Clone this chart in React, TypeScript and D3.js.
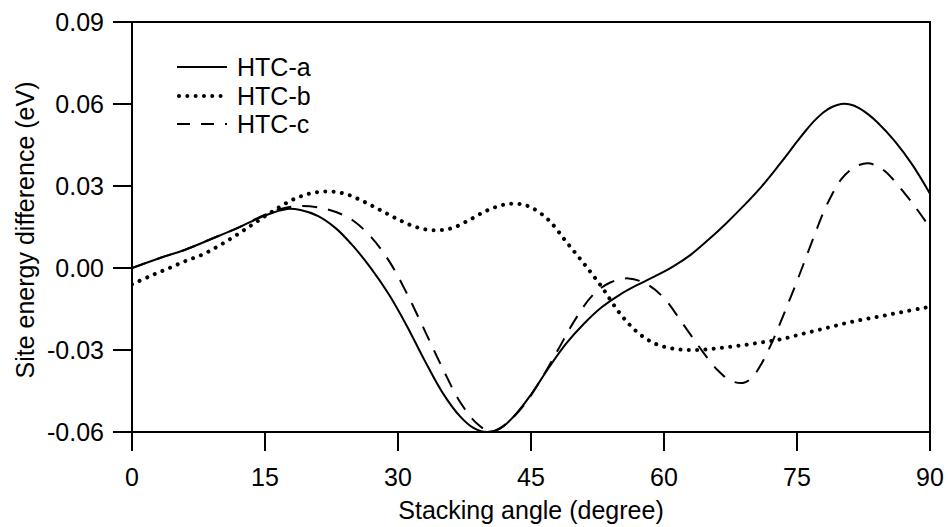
import React from "react";
import * as d3 from "d3";

const xTicks = [0, 15, 30, 45, 60, 75, 90];
const yTicks = [-0.06, -0.03, 0.0, 0.03, 0.06, 0.09];
const yTickLabels = ["-0.06", "-0.03", "0.00", "0.03", "0.06", "0.09"];

const seriesNames = ["HTC-a", "HTC-b", "HTC-c"];

const htcA: [number, number][] = [
  [0, 0.0], [3, 0.0035], [6, 0.0067], [9, 0.0107], [12, 0.0148], [15, 0.0192],
  [17.5, 0.0216], [19, 0.0212], [21, 0.019], [23, 0.0145], [25, 0.0078],
  [27, -0.0003], [29, -0.0098], [31, -0.0212], [33, -0.0338], [35, -0.0455],
  [37, -0.0543], [38.5, -0.0585], [40, -0.06], [41.5, -0.0588], [43, -0.0545],
  [45, -0.0463], [47, -0.0365], [49, -0.0275], [51, -0.0203], [53, -0.0143],
  [55, -0.0098], [57, -0.0062], [59, -0.003], [61, 0.0005], [63, 0.0048],
  [65, 0.0103], [67, 0.0163], [69, 0.0228], [71, 0.0298], [73, 0.0378],
  [75, 0.0462], [76, 0.0503], [77, 0.054], [78, 0.057], [79, 0.059],
  [80, 0.06], [81, 0.0598], [82, 0.0585], [83, 0.0563], [84, 0.0535],
  [86, 0.0465], [88, 0.0378], [90, 0.0272],
];

const htcB: [number, number][] = [
  [0, -0.006], [2, -0.003], [4, -0.0003], [6, 0.0025], [8, 0.005], [10, 0.0085],
  [12, 0.0125], [14, 0.0168], [16, 0.021], [18, 0.0248], [20, 0.0272],
  [22, 0.028], [24, 0.0272], [26, 0.0245], [28, 0.0212], [30, 0.0178],
  [32, 0.015], [34, 0.0138], [36, 0.0145], [38, 0.0175], [40, 0.021],
  [42, 0.0232], [43.5, 0.0235], [45, 0.0222], [47, 0.0175], [49, 0.0095],
  [51, 0.0015], [53, -0.007], [55, -0.0165], [57, -0.0235], [59, -0.0277],
  [61, -0.0295], [63, -0.03], [65, -0.0297], [67, -0.029], [69, -0.0282],
  [71, -0.0272], [73, -0.0262], [75, -0.0246], [77, -0.023], [79, -0.0214],
  [81, -0.0198], [83, -0.0185], [85, -0.0173], [87, -0.016], [89, -0.0148],
  [90, -0.0142],
];

const htcC: [number, number][] = [
  [0, 0.0], [3, 0.0035], [6, 0.0067], [9, 0.0107], [12, 0.0148], [15, 0.0195],
  [17, 0.0218], [19, 0.0227], [21, 0.0222], [23, 0.0205], [25, 0.0172],
  [27, 0.0112], [29, 0.0025], [31, -0.0093], [33, -0.0228], [35, -0.0365],
  [37, -0.049], [39, -0.0572], [40.5, -0.0599], [42, -0.0575], [44, -0.051],
  [46, -0.0415], [48, -0.0302], [50, -0.0188], [52, -0.0098], [54, -0.0052],
  [56, -0.0038], [58, -0.0058], [60, -0.011], [62, -0.0198], [64, -0.029],
  [66, -0.0372], [67.5, -0.0412], [69, -0.042], [70, -0.0398], [71, -0.035],
  [72, -0.0285], [73, -0.021], [74, -0.013], [75, -0.0048], [76, 0.0037],
  [77, 0.0123], [78, 0.0205], [79, 0.0272], [80, 0.0325], [81, 0.0358],
  [82, 0.0377], [83, 0.0383], [84, 0.0374], [85, 0.0352], [86, 0.0318],
  [88, 0.0238], [90, 0.0148],
];

const W = 948;
const H = 527;
const left = 132;
const right = 930;
const top = 22;
const bottom = 432;
const FONT = "'Liberation Sans', Arial, Helvetica, sans-serif";
const FS = 25;

export default function App() {
  const x = d3.scaleLinear().domain([0, 90]).range([left, right]);
  const y = d3.scaleLinear().domain([-0.06, 0.09]).range([bottom, top]);
  const line = d3
    .line<[number, number]>()
    .x((d) => x(d[0]))
    .y((d) => y(d[1]))
    .curve(d3.curveCatmullRom.alpha(0.5));

  const styles = [
    { dash: undefined as string | undefined, width: 2, cap: "butt" },
    { dash: "0.01 8.3", width: 4, cap: "round" },
    { dash: "15 11", width: 2, cap: "butt" },
  ];
  const data = [htcA, htcB, htcC];
  const legendY = [67, 96, 124];

  return (
    <svg
      width={W}
      height={H}
      style={{ position: "absolute", left: 0, top: 0, background: "#fff" }}
      fontFamily={FONT}
    >
      <rect x={0} y={0} width={W} height={H} fill="#fff" />
      <defs>
        <clipPath id="plotclip">
          <rect x={left} y={top - 2} width={right - left} height={bottom - top + 4} />
        </clipPath>
      </defs>
      <g clipPath="url(#plotclip)">
        {data.map((d, i) => (
          <path
            key={i}
            d={line(d) || ""}
            fill="none"
            stroke="#000"
            strokeWidth={styles[i].width}
            strokeDasharray={styles[i].dash}
            strokeLinecap={styles[i].cap as any}
            strokeLinejoin="round"
          />
        ))}
      </g>
      <rect
        x={left}
        y={top}
        width={right - left}
        height={bottom - top}
        fill="none"
        stroke="#000"
        strokeWidth={2}
      />
      {xTicks.map((t) => (
        <g key={"x" + t}>
          <line x1={x(t)} x2={x(t)} y1={bottom} y2={bottom + 19} stroke="#000" strokeWidth={2} />
          <text x={x(t)} y={486} textAnchor="middle" fontSize={FS} fill="#000">
            {t}
          </text>
        </g>
      ))}
      {yTicks.map((t, i) => (
        <g key={"y" + i}>
          <line x1={left - 19} x2={left} y1={y(t)} y2={y(t)} stroke="#000" strokeWidth={2} />
          <text x={104} y={y(t)} dy="0.36em" textAnchor="end" fontSize={FS} fill="#000">
            {yTickLabels[i]}
          </text>
        </g>
      ))}
      <text x={(left + right) / 2} y={519} textAnchor="middle" fontSize={FS} fill="#000">
        Stacking angle (degree)
      </text>
      <text
        transform={`translate(34, ${(top + bottom) / 2 + 3}) rotate(-90)`}
        textAnchor="middle"
        fontSize={FS}
        fill="#000"
      >
        Site energy difference (eV)
      </text>
      {seriesNames.map((name, i) => (
        <g key={name}>
          <line
            x1={i === 1 ? 179 : 177}
            x2={i === 1 ? 221 : 227}
            y1={legendY[i]}
            y2={legendY[i]}
            stroke="#000"
            strokeWidth={styles[i].width}
            strokeDasharray={i === 2 ? "13 11" : styles[i].dash}
            strokeLinecap={styles[i].cap as any}
          />
          <text x={237} y={legendY[i]} dy="0.36em" fontSize={FS} fill="#000">
            {name}
          </text>
        </g>
      ))}
    </svg>
  );
}
